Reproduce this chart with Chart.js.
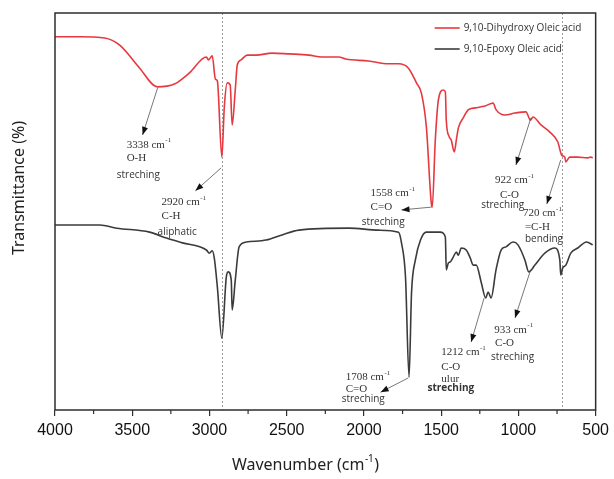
<!DOCTYPE html>
<html>
<head>
<meta charset="utf-8">
<script src="https://cdn.jsdelivr.net/npm/chart.js@4.4.0/dist/chart.umd.min.js"></script>
<style>
  html, body { margin: 0; padding: 0; background: #fff; }
  canvas { display: block; }
</style>
</head>
<body>
<canvas id="ftir-chart" width="614" height="479"></canvas>
<script>
// values (wavenumber cm-1 / transmittance, arbitrary %)
const seriesNames = ['9,10-Dihydroxy Oleic acid', '9,10-Epoxy Oleic acid'];
const seriesColors = ['#e8383f', '#3b3b3b'];

const wnDihydroxy = [4000,3839,3678,3581,3452,3338,3227,3130,3020,3007,2982,2962,2949,2920,2904,2885,2866,2853,2833,2820,2795,2756,2698,2595,2485,2356,2273,2163,2118,1970,1841,1776,1712,1660,1628,1596,1564,1558,1538,1518,1486,1473,1467,1448,1435,1415,1402,1389,1357,1325,1280,1215,1164,1144,1087,1022,951,922,906,854,797,745,720,700,693,668,616,552,532,519];
const tDihydroxy = [94.0,94.0,93.7,91.9,86.1,81.4,82.1,84.9,88.9,88.2,89.2,83.4,82.9,63.7,76.3,82.4,81.9,71.8,80.6,86.9,88.2,89.4,89.4,89.9,89.7,89.4,88.9,88.9,88.4,87.9,87.2,87.2,86.1,82.4,79.8,71.3,52.1,51.1,68.0,78.1,80.6,80.1,73.0,68.8,68.0,65.0,68.0,71.0,73.6,75.6,76.1,76.6,77.3,75.6,74.3,74.8,75.1,73.0,73.8,71.8,70.0,67.5,64.2,63.7,62.5,63.7,63.7,63.5,63.7,63.5];

const wnEpoxy = [4000,3710,3600,3388,3278,3175,3020,3001,2982,2969,2949,2920,2891,2878,2859,2853,2833,2808,2762,2633,2530,2421,2098,1905,1776,1757,1731,1708,1692,1667,1634,1596,1506,1473,1467,1454,1441,1422,1402,1389,1370,1338,1312,1293,1273,1241,1212,1196,1177,1145,1112,1080,1035,1003,958,933,893,829,764,732,726,713,693,661,616,558,519];
const tEpoxy = [46.6,46.6,45.8,44.8,43.3,42.1,40.3,39.5,40.1,38.3,31.0,18.1,33.5,34.8,32.7,25.2,32.7,41.1,42.3,42.8,44.1,45.3,45.8,45.3,44.8,42.1,33.5,8.3,29.5,37.8,42.8,44.8,44.8,43.6,35.3,37.0,37.3,38.5,39.8,39.0,40.8,40.3,38.3,36.5,36.5,32.2,28.2,29.7,28.2,35.3,40.3,41.1,42.3,41.6,37.8,34.8,36.5,39.5,40.8,37.8,34.0,35.8,36.5,39.5,40.8,42.3,41.6];

const xMin = 500, xMax = 4000, xStep = 500;
const minorTicks = [3750,3250,2750,2250,1750,1250,750];
const markerLines = [2920, 720];

// peak callouts: arrow start, arrow tip, then text lines [text, wn, T, kind]
// kind: s = serif, a = sans, b = bold sans ; '^' marks a superscript
const annFrom = [[3336,81.1],[2924,61.0],[1564,51.1],[919,73.6],[726,63.0],[1712,8.1],[1222,28.2],[925,34.8]];
const annTo = [[3433,69.3],[3091,55.2],[1757,50.4],[1016,61.7],[816,51.9],[1892,4.5],[1306,17.1],[1022,23.2]];
const annText = [
  [['3338 cm^-1',3536,66.8,'s'],['O-H',3536,63.5,'s'],['streching',3600,59.2,'a']],
  [['2920 cm^-1',3310,52.4,'s'],['C-H',3310,48.9,'s'],['aliphatic',3336,44.8,'a']],
  [['1558 cm^-1',1957,54.7,'s'],['C=O',1957,51.1,'s'],['streching',2015,47.4,'a']],
  [['922 cm^-1',1151,57.9,'s'],['C-O',1119,54.2,'s'],['streching',1241,51.6,'a']],
  [['720 cm^-1',971,49.6,'s'],['=C-H',958,46.1,'s'],['bending',958,43.1,'a']],
  [['1708 cm^-1',2118,8.3,'s'],['C=O',2118,5.3,'s'],['streching',2144,2.8,'a']],
  [['1212 cm^-1',1499,14.6,'s'],['C-O',1499,10.8,'s'],['ulur',1499,7.8,'s'],['streching',1589,5.5,'b']],
  [['933 cm^-1',1157,20.2,'s'],['C-O',1151,16.9,'s'],['streching',1177,13.4,'a']]
];

const fonts = {
  s: '11px "Liberation Serif", serif',
  a: '10px "Open Sans", sans-serif',
  b: 'bold 10px "Open Sans", sans-serif'
};

function drawSup(ctx, str, x, y, font) {
  const parts = str.split('^');
  ctx.font = font;
  ctx.fillText(parts[0], x, y);
  if (parts[1]) {
    const w = ctx.measureText(parts[0]).width;
    const size = parseFloat(font.match(/(\d+)px/)[1]);
    ctx.font = font.replace(/\d+px/, Math.round(size * 0.62) + 'px');
    ctx.fillText(parts[1], x + w + 0.5, y - size * 0.38);
  }
}

function arrow(ctx, x1, y1, x2, y2) {
  ctx.beginPath();
  ctx.moveTo(x1, y1);
  ctx.lineTo(x2, y2);
  ctx.stroke();
  const a = Math.atan2(y2 - y1, x2 - x1);
  ctx.beginPath();
  ctx.moveTo(x2, y2);
  ctx.lineTo(x2 - 8 * Math.cos(a) + 3 * Math.sin(a), y2 - 8 * Math.sin(a) - 3 * Math.cos(a));
  ctx.lineTo(x2 - 8 * Math.cos(a) - 3 * Math.sin(a), y2 - 8 * Math.sin(a) + 3 * Math.cos(a));
  ctx.closePath();
  ctx.fill();
}

const ftirDecor = {
  id: 'ftirDecor',
  beforeDatasetsDraw(chart) {
    const { ctx, chartArea: area, scales: { x } } = chart;
    ctx.save();
    ctx.strokeStyle = '#9a9a9a';
    ctx.lineWidth = 1;
    ctx.setLineDash([2, 2]);
    markerLines.forEach(wn => {
      const px = Math.round(x.getPixelForValue(wn)) + 0.5;
      ctx.beginPath();
      ctx.moveTo(px, area.top);
      ctx.lineTo(px, area.bottom);
      ctx.stroke();
    });
    ctx.restore();
  },
  afterDraw(chart) {
    const { ctx, chartArea: area, scales: { x, y } } = chart;
    ctx.save();

    // frame
    ctx.strokeStyle = '#2e2e2e';
    ctx.lineWidth = 1.5;
    ctx.strokeRect(area.left, area.top, area.right - area.left, area.bottom - area.top);

    // minor ticks
    ctx.lineWidth = 1.2;
    minorTicks.forEach(wn => {
      const px = x.getPixelForValue(wn);
      ctx.beginPath();
      ctx.moveTo(px, area.bottom);
      ctx.lineTo(px, area.bottom + 4);
      ctx.stroke();
    });

    // legend
    ctx.textBaseline = 'middle';
    ctx.textAlign = 'left';
    seriesNames.forEach((name, i) => {
      const ly = area.top + 15 + i * 21;
      ctx.strokeStyle = seriesColors[i];
      ctx.lineWidth = 1.6;
      ctx.beginPath();
      ctx.moveTo(area.right - 161, ly);
      ctx.lineTo(area.right - 136, ly);
      ctx.stroke();
      ctx.fillStyle = '#333';
      ctx.font = '10px "Open Sans", sans-serif';
      ctx.fillText(name, area.right - 132, ly);
    });

    // callouts
    ctx.strokeStyle = '#555';
    ctx.fillStyle = '#111';
    ctx.lineWidth = 0.8;
    annFrom.forEach((p, i) => {
      arrow(ctx, x.getPixelForValue(p[0]), y.getPixelForValue(p[1]),
        x.getPixelForValue(annTo[i][0]), y.getPixelForValue(annTo[i][1]));
    });
    ctx.fillStyle = '#333';
    annText.forEach(lines => {
      lines.forEach(([txt, wn, t, kind]) => {
        drawSup(ctx, txt, x.getPixelForValue(wn), y.getPixelForValue(t), fonts[kind]);
      });
    });

    // axis titles
    ctx.fillStyle = '#222';
    ctx.textAlign = 'left';
    const xTitle = 'Wavenumber (cm';
    ctx.font = '16px "Noto Sans", sans-serif';
    const w1 = ctx.measureText(xTitle).width;
    ctx.font = '10px "Noto Sans", sans-serif';
    const w2 = ctx.measureText('-1').width;
    ctx.font = '16px "Noto Sans", sans-serif';
    const w3 = ctx.measureText(')').width;
    const tx = 305 - (w1 + w2 + w3) / 2;
    ctx.fillText(xTitle, tx, 465);
    ctx.font = '10px "Noto Sans", sans-serif';
    ctx.fillText('-1', tx + w1 + 0.5, 459);
    ctx.font = '16px "Noto Sans", sans-serif';
    ctx.fillText(')', tx + w1 + w2 + 1, 465);

    ctx.translate(19, 188);
    ctx.rotate(-Math.PI / 2);
    ctx.textAlign = 'center';
    ctx.fillText('Transmittance (%)', 0, 0);
    ctx.restore();
  }
};

new Chart(document.getElementById('ftir-chart'), {
  type: 'line',
  data: {
    datasets: [
      {
        label: seriesNames[0],
        data: wnDihydroxy.map((wn, i) => ({ x: wn, y: tDihydroxy[i] })),
        borderColor: seriesColors[0],
        borderWidth: 1.6,
        pointRadius: 0,
        cubicInterpolationMode: 'monotone'
      },
      {
        label: seriesNames[1],
        data: wnEpoxy.map((wn, i) => ({ x: wn, y: tEpoxy[i] })),
        borderColor: seriesColors[1],
        borderWidth: 1.6,
        pointRadius: 0,
        cubicInterpolationMode: 'monotone'
      }
    ]
  },
  options: {
    responsive: false,
    animation: false,
    devicePixelRatio: 1,
    layout: { padding: { left: 0, top: 13, right: 16, bottom: 0 } },
    plugins: { legend: { display: false }, tooltip: { enabled: false } },
    scales: {
      x: {
        type: 'linear',
        reverse: true,
        min: xMin,
        max: xMax,
        ticks: {
          stepSize: xStep,
          color: '#111',
          padding: 5,
          maxRotation: 0,
          callback: v => String(v),
          font: { family: '"Liberation Sans", Arial, sans-serif', size: 16 }
        },
        grid: { display: true, drawOnChartArea: false, tickLength: 6, color: '#2e2e2e', lineWidth: 1.2 },
        border: { display: false },
        afterFit(scale) { scale.height = 69; }
      },
      y: {
        min: 0,
        max: 100,
        ticks: { display: false },
        grid: { display: false },
        border: { display: false },
        afterFit(scale) { scale.width = 55; }
      }
    }
  },
  plugins: [ftirDecor]
});
</script>
</body>
</html>
